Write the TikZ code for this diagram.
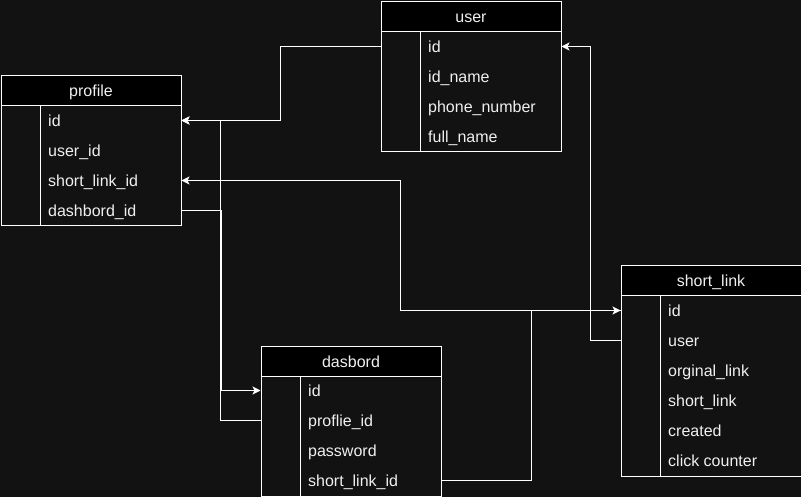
\documentclass[tikz,border=0pt]{standalone}
\usepackage{fontspec}
\setmainfont{Liberation Sans}
\usetikzlibrary{arrows.meta}
\definecolor{bg}{RGB}{18,18,18}
\definecolor{fg}{RGB}{240,240,240}
\begin{document}
\begin{tikzpicture}[x=1pt,y=-1pt,
  every node/.style={font=\fontsize{16}{19}\selectfont, text=fg},
  hdr/.style={draw=white, line width=1pt, fill=black, minimum width=180pt, minimum height=30pt, inner sep=0pt, text height=12pt, text depth=0pt, anchor=north west},
  tbody/.style={draw=white, line width=1pt, fill=bg, minimum width=180pt, inner sep=0pt, anchor=north west},
  field/.style={anchor=west, inner sep=0pt, text height=12pt, text depth=0pt},
  divider/.style={draw=white, line width=1pt},
  link/.style={draw=white, line width=1pt, -{Stealth[length=8pt,width=8pt,inset=2pt]}}
]
\fill[bg] (0,0) rectangle (801,497);
\useasboundingbox (0,0) rectangle (801,497);

% profile
\node[hdr] (profile-h) at (0.5,75.5) {profile};
\node[tbody, minimum height=120pt] (profile) at (0.5,105.5) {};
\draw[divider] ([xshift=40pt]profile.north west) -- ([xshift=40pt]profile.south west);
\node[field] (p-id) at (48,120.5) {id};
\node[field] (p-uid) at (48,150.5) {user\_id};
\node[field] (p-slid) at (48,180.5) {short\_link\_id};
\node[field] (p-dash) at (48,210.5) {dashbord\_id};

% user
\node[hdr] (user-h) at (380.5,1.5) {user};
\node[tbody, minimum height=120pt] (user) at (380.5,31.5) {};
\draw[divider] ([xshift=40pt]user.north west) -- ([xshift=40pt]user.south west);
\node[field] (u-id) at (428,46.5) {id};
\node[field] (u-name) at (428,76.5) {id\_name};
\node[field] (u-phone) at (428,106.5) {phone\_number};
\node[field] (u-full) at (428,136.5) {full\_name};

% dasbord
\node[hdr] (dasbord-h) at (260.5,345.5) {dasbord};
\node[tbody, minimum height=120pt] (dasbord) at (260.5,375.5) {};
\draw[divider] ([xshift=40pt]dasbord.north west) -- ([xshift=40pt]dasbord.south west);
\node[field] (d-id) at (308,390.5) {id};
\node[field] (d-pid) at (308,420.5) {proflie\_id};
\node[field] (d-pass) at (308,450.5) {password};
\node[field] (d-slid) at (308,480.5) {short\_link\_id};

% short_link
\node[hdr] (slink-h) at (620.5,265.5) {short\_link};
\node[tbody, minimum height=180pt] (slink) at (620.5,295.5) {};
\draw[divider] ([xshift=40pt]slink.north west) -- ([xshift=40pt]slink.south west);
\node[field] (s-id) at (668,310.5) {id};
\node[field] (s-user) at (668,340.5) {user};
\node[field] (s-orig) at (668,370.5) {orginal\_link};
\node[field] (s-short) at (668,400.5) {short\_link};
\node[field] (s-created) at (668,430.5) {created};
\node[field] (s-click) at (668,460.5) {click counter};

% connectors
\draw[link] (u-id -| user.west) -- ++(-100,0) |- (p-id -| profile.east);
\draw[link] (p-dash -| profile.east) -- ++(40,0) |- (d-id -| dasbord.west);
\draw[link] (d-pid -| dasbord.west) -- ++(-40,0) |- (p-id -| profile.east);
\draw[link] (s-user -| slink.west) -- ++(-30,0) |- (u-id -| user.east);
\draw[link] (d-slid -| dasbord.east) -- ++(90,0) |- (s-id -| slink.west);
\draw[link] (s-id -| slink.west) -- ++(-220,0) |- (p-slid -| profile.east);
\end{tikzpicture}
\end{document}
